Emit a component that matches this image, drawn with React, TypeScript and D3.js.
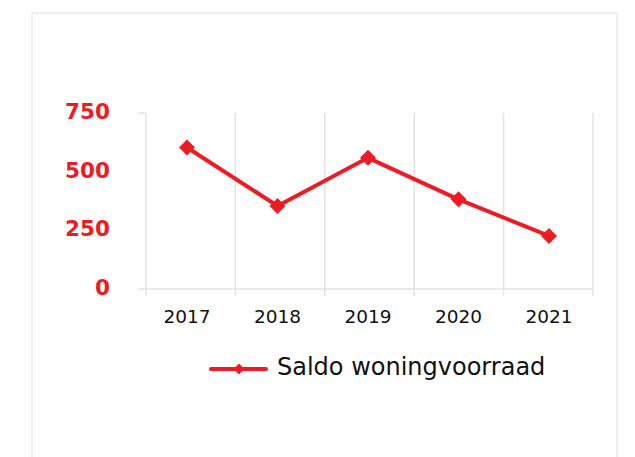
import React from "react";
import * as d3 from "d3";

const years = ["2017", "2018", "2019", "2020", "2021"];
const saldo = [603, 354, 559, 382, 226];
const yTicks = [0, 250, 500, 750];
const seriesName = "Saldo woningvoorraad";

const RED = "#ed1c24";
const GRID = "#e3e3e3";

export default function App() {
  const W = 635;
  const H = 457;
  const x0 = 146;
  const x1 = 593;
  const yTop = 113;
  const yBot = 289;

  const xBand = d3.scaleBand<string>().domain(years).range([x0, x1]).padding(0);
  const xPt = d3.scalePoint<string>().domain(years).range([187, 549]);
  const y = d3.scaleLinear().domain([0, 750]).range([yBot, yTop]);

  const line = d3
    .line<number>()
    .x((_, i) => xPt(years[i]) as number)
    .y((d) => y(d));

  const diamond = d3.symbol().type(d3.symbolSquare).size(128)() as string;
  const smallDiamond = d3.symbol().type(d3.symbolSquare).size(60)() as string;

  const gridXs = [...years.map((c) => xBand(c) as number), x1];

  return (
    <svg
      width={W}
      height={H}
      style={{ position: "absolute", left: 0, top: 0, background: "#fff" }}
    >
      <rect x={32} y={13} width={585} height={460} fill="#fff" stroke="#ebebeb" strokeWidth={1.5} />

      {/* vertical gridlines / axis */}
      {gridXs.map((gx, i) => (
        <line key={i} x1={gx} x2={gx} y1={yTop} y2={yBot + 7} stroke={GRID} strokeWidth={1.5} />
      ))}
      {/* top and bottom ticks */}
      <line x1={x0 - 8} x2={x0} y1={yTop} y2={yTop} stroke={GRID} strokeWidth={1.5} />
      <line x1={x0 - 8} x2={x1} y1={yBot} y2={yBot} stroke={GRID} strokeWidth={1.5} />

      {/* y labels */}
      {yTicks.map((t) => (
        <text
          key={t}
          x={110}
          y={y(t) + 6}
          textAnchor="end"
          fontFamily="DejaVu Sans"
          fontWeight="bold"
          fontSize={21.5}
          fill={RED}
        >
          {t}
        </text>
      ))}

      {/* x labels */}
      {years.map((c) => (
        <text
          key={c}
          x={xPt(c) as number}
          y={323}
          textAnchor="middle"
          fontFamily="DejaVu Sans"
          fontSize={18.5}
          fill="#111"
        >
          {c}
        </text>
      ))}

      {/* series */}
      <path d={line(saldo) as string} fill="none" stroke={RED} strokeWidth={4} strokeLinejoin="round" />
      {saldo.map((v, i) => (
        <path
          key={i}
          d={diamond}
          transform={`translate(${xPt(years[i])},${y(v)}) rotate(45)`}
          fill={RED}
        />
      ))}

      {/* legend */}
      <line x1={211} x2={266} y1={369} y2={369} stroke={RED} strokeWidth={4} strokeLinecap="round" />
      <path d={smallDiamond} transform={`translate(239,369) rotate(45)`} fill={RED} />
      <text x={277} y={375} fontFamily="DejaVu Sans" fontSize={24} fill="#111">
        {seriesName}
      </text>
    </svg>
  );
}
